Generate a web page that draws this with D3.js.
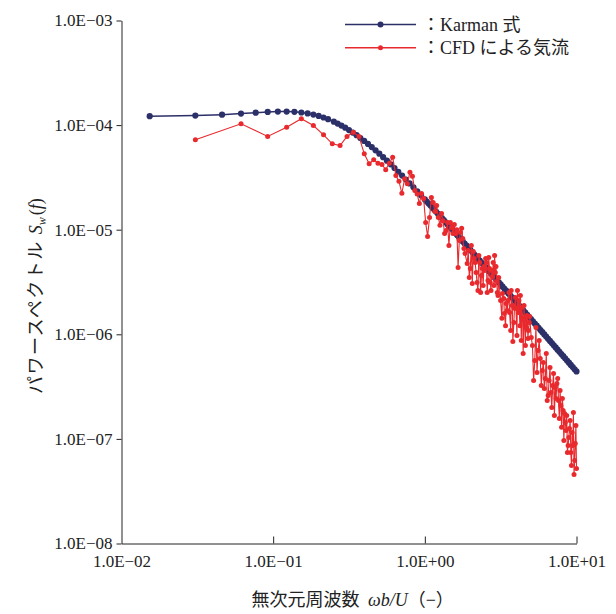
<!DOCTYPE html>
<html><head><meta charset="utf-8">
<script src="https://cdn.jsdelivr.net/npm/d3@7"></script>
<style>body{margin:0;background:#fff}</style>
</head><body>
<svg id="chart" width="616" height="614"></svg>
<script>
// ---- data ----
const karmanFreq = [0.01534,0.03068,0.04602,0.06136,0.0767,0.09204,0.10738,0.12272,0.13806,0.1534,0.16874,0.18408,0.19942,0.21476,0.2301,
 0.2512,0.2661,0.2818,0.2985,0.3162,0.335,0.3548,0.3758,0.3981,0.4217,0.4467,0.4732,0.5012,0.5309,0.5623,0.5957,0.631,0.6683,0.7079,0.7499,
 0.7943,0.8414,0.8913,0.9441,
 1.0,1.0292,1.0593,1.0902,1.122,1.1548,1.1885,1.2232,1.2589,1.2957,
 1.3335,1.3725,1.4125,1.4538,1.4962,1.5399,1.5849,1.6312,1.6788,1.7278,
 1.7783,1.8302,1.8836,1.9387,1.9953,2.0535,2.1135,2.1752,2.2387,2.3041,
 2.3714,2.4406,2.5119,2.5852,2.6607,2.7384,2.8184,2.9007,2.9854,3.0726,
 3.1623,3.2546,3.3497,3.4475,3.5481,3.6517,3.7584,3.8681,3.9811,4.0973,
 4.217,4.3401,4.4668,4.5973,4.7315,4.8697,5.0119,5.1582,5.3088,5.4639,
 5.6234,5.7876,5.9566,6.1306,6.3096,6.4938,6.6834,6.8786,7.0795,7.2862,
 7.4989,7.7179,7.9433,8.1752,8.414,8.6596,8.9125,9.1728,9.4406,9.7163,
 10.0];
const karmanS = [1.216e-4,1.234e-4,1.259e-4,1.288e-4,1.314e-4,1.335e-4,1.346e-4,1.347e-4,1.339e-4,1.320e-4,1.294e-4,1.261e-4,1.224e-4,1.182e-4,1.139e-4,
 1.078e-4,1.035e-4,9.90e-5,9.44e-5,8.96e-5,8.48e-5,8.01e-5,7.53e-5,7.06e-5,6.61e-5,6.17e-5,5.74e-5,5.33e-5,4.94e-5,4.57e-5,4.22e-5,3.89e-5,3.58e-5,3.29e-5,3.02e-5,
 2.77e-5,2.54e-5,2.33e-5,2.13e-5,
 1.947e-5,1.861e-5,1.779e-5,1.700e-5,1.624e-5,1.552e-5,1.482e-5,1.416e-5,1.352e-5,1.291e-5,
 1.233e-5,1.177e-5,1.123e-5,1.072e-5,1.024e-5,9.770e-6,9.32e-6,8.897e-6,8.49e-6,8.102e-6,
 7.73e-6,7.375e-6,7.04e-6,6.710e-6,6.40e-6,6.108e-6,5.82e-6,5.556e-6,5.30e-6,5.052e-6,
 4.82e-6,4.596e-6,4.38e-6,4.180e-6,3.99e-6,3.801e-6,3.62e-6,3.455e-6,3.30e-6,3.142e-6,
 2.995e-6,2.856e-6,2.72e-6,2.596e-6,2.475e-6,2.360e-6,2.25e-6,2.145e-6,2.045e-6,1.950e-6,
 1.858e-6,1.772e-6,1.689e-6,1.610e-6,1.535e-6,1.463e-6,1.395e-6,1.329e-6,1.267e-6,1.208e-6,
 1.152e-6,1.098e-6,1.047e-6,9.977e-7,9.51e-7,9.067e-7,8.64e-7,8.237e-7,7.85e-7,7.484e-7,
 7.13e-7,6.800e-7,6.48e-7,6.180e-7,5.89e-7,5.615e-7,5.35e-7,5.101e-7,4.86e-7,4.635e-7,
 4.42e-7];

const cfdFreq = [0.0307,0.0614,0.092,0.1227,0.1534,0.1841,0.2148,0.2454,0.2761,0.3068,0.3375,0.3682,0.3988,0.4295,0.4602,0.4909,0.5216,0.5522,0.5829,0.6136,
 0.6443,0.675,0.7056,0.7363,0.767,0.7977,0.8284,0.859,0.8897,
 0.9204,0.9511,0.9818,1.0124,1.0431,1.0738,1.1045,1.1352,1.1658,1.1965,1.2272,1.2579,1.2886,1.3192,1.3499,1.3806,1.4113,1.442,1.4726,1.5033,1.534,
 1.5647,1.5954,1.626,1.6567,1.6874,1.7181,1.7488,1.7794,1.8101,1.8408,
 1.9022,1.9328,1.9635,1.9942,2.0249,2.0556,2.0862,2.1169,2.1476,2.1783,2.209,2.2396,2.2703,2.301,2.3317,2.3624,2.393,2.4237,2.4544,2.4851,
 2.5158,2.5464,2.5771,2.6078,2.6385,2.6692,2.6998,2.7305,2.7612,2.7919,2.8226,2.8532,2.8839,2.9146,2.9453,2.976,3.0066,3.0373,3.068,
 3.16,3.2214,3.2521,3.3134,3.3441,3.4055,3.4362,3.4975,3.5282,3.5896,3.6202,3.6816,3.7123,3.7736,3.8043,3.8657,3.8964,3.9577,3.9884,4.0498,
 4.0804,4.1418,4.1725,4.2338,4.2645,4.3259,4.3566,4.4179,4.4486,4.51,4.5406,4.602,4.6327,4.694,4.7247,4.7861,4.8168,4.8781,4.9088,
 5.0315,5.1236,5.2156,5.3076,5.3997,5.4917,5.5838,5.6758,5.7678,5.8599,5.9519,6.044,6.136,6.228,6.3201,6.4121,6.5042,6.5962,6.6882,6.7803,
 6.8723,6.9644,7.0564,7.1484,7.2405,7.3325,7.4246,7.5166,7.6086,7.7007,7.7927,7.8848,7.9768,8.0688,8.1609,8.2529,8.345,8.437,8.529,8.6211,
 8.7131,8.8052,8.8972,8.9892,9.0813,9.1733,9.2654,9.3574,9.4494,9.5415,9.6335,9.7256,9.8176,9.9096,10.0];
const cfdS = [7.24e-5,1.03e-4,7.78e-5,9.55e-5,1.15e-4,9.91e-5,8.08e-5,6.63e-5,6.38e-5,7.78e-5,8.55e-5,7.78e-5,5.31e-5,4.27e-5,4.66e-5,4.32e-5,4.20e-5,3.74e-5,4.32e-5,4.93e-5,
 3.30e-5,2.91e-5,2.23e-5,3.07e-5,2.75e-5,3.55e-5,3.25e-5,2.37e-5,2.20e-5,
 1.78e-5,2.22e-5,1.99e-5,1.17e-5,8.61e-6,1.31e-5,2.03e-5,1.82e-5,1.49e-5,1.70e-5,1.31e-5,1.10e-5,1.43e-5,1.22e-5,9.20e-6,9.83e-6,1.17e-5,7.06e-6,1.17e-5,1.05e-5,9.20e-6,
 1.12e-5,9.20e-6,1.00e-5,4.35e-6,7.88e-6,9.40e-6,1.03e-5,8.24e-6,6.61e-6,5.92e-6,
 4.75e-6,6.33e-6,3.49e-6,4.26e-6,7.06e-6,3.06e-6,6.19e-6,5.31e-6,4.86e-6,3.90e-6,3.13e-6,2.62e-6,5.67e-6,4.86e-6,2.51e-6,3.65e-6,4.26e-6,2.93e-6,4.45e-6,4.07e-6,
 5.31e-6,4.86e-6,2.51e-6,3.27e-6,5.42e-6,4.26e-6,3.13e-6,2.62e-6,4.07e-6,3.57e-6,4.86e-6,2.93e-6,5.67e-6,3.90e-6,4.45e-6,3.20e-6,2.51e-6,2.35e-6,3.49e-6,
 2.10e-6,1.42e-6,2.46e-6,2.20e-6,1.58e-6,1.21e-6,1.97e-6,1.69e-6,2.10e-6,2.51e-6,1.62e-6,1.09e-6,2.62e-6,1.89e-6,8.54e-7,1.30e-6,1.77e-6,2.25e-6,1.77e-6,9.74e-7,
 2.62e-6,1.62e-6,2.10e-6,1.21e-6,2.35e-6,8.73e-7,1.80e-6,1.42e-6,6.55e-7,1.89e-6,1.36e-6,7.82e-7,1.42e-6,1.14e-6,1.51e-6,9.12e-7,1.09e-6,1.30e-6,1.48e-6,
 9.32e-7,7.82e-7,3.62e-7,5.62e-7,1.16e-6,4.31e-7,7.00e-7,8.73e-7,5.87e-7,3.24e-7,4.51e-7,5.38e-7,3.03e-7,3.78e-7,6.55e-7,2.33e-7,2.60e-7,3.62e-7,4.82e-7,2.78e-7,
 2.00e-7,3.24e-7,4.22e-7,1.67e-7,3.10e-7,2.43e-7,3.39e-7,3.78e-7,2.33e-7,1.57e-7,2.90e-7,2.09e-7,1.29e-7,2.43e-7,1.87e-7,9.66e-8,1.75e-7,1.44e-7,1.20e-7,1.67e-7,
 7.42e-8,8.65e-8,1.03e-7,1.26e-7,1.50e-7,7.42e-8,5.57e-8,1.15e-7,8.65e-8,1.79e-7,4.57e-8,6.22e-8,9.04e-8,1.34e-7,5.21e-8];

const xTickValues = [1e-2, 1e-1, 1e0, 1e1];
const xTickLabels = ["1.0E\u221202", "1.0E\u221201", "1.0E+00", "1.0E+01"];
const yTickValues = [1e-8, 1e-7, 1e-6, 1e-5, 1e-4, 1e-3];
const yTickLabels = ["1.0E\u221208", "1.0E\u221207", "1.0E\u221206", "1.0E\u221205", "1.0E\u221204", "1.0E\u221203"];
const seriesNames = ["\uFF1AKarman \u5F0F", "\uFF1ACFD \u306B\u3088\u308B\u6C17\u6D41"];
const seriesColors = ["#2c3068", "#e8292d"];

// ---- chart ----
const FONT = "'Liberation Serif','Noto Sans CJK JP',serif";
const svg = d3.select("#chart");
const x = d3.scaleLog().domain([1e-2, 1e1]).range([121.5, 576.5]);
const y = d3.scaleLog().domain([1e-8, 1e-3]).range([543.5, 20.5]);

// axes
const gx = svg.append("g").attr("transform", "translate(0,543.5)")
  .call(d3.axisBottom(x).tickValues(xTickValues).tickFormat((d, i) => xTickLabels[i])
    .tickSizeInner(-7).tickSizeOuter(0).tickPadding(11));
const gy = svg.append("g").attr("transform", "translate(121.5,0)")
  .call(d3.axisLeft(y).tickValues(yTickValues).tickFormat((d, i) => yTickLabels[i])
    .tickSizeInner(5).tickSizeOuter(0).tickPadding(4));
[gx, gy].forEach(g => {
  g.selectAll("path.domain").attr("stroke", "#222").attr("stroke-width", 1);
  g.selectAll("line").attr("stroke", "#222").attr("stroke-width", 1);
  g.selectAll("text").attr("font-family", FONT).attr("font-size", 17).attr("fill", "#222");
});
gx.selectAll(".tick").filter(d => d === 1e-2).select("line").remove();

// series
const karman = karmanFreq.map((f, i) => [f, karmanS[i]]);
const cfd = cfdFreq.map((f, i) => [f, cfdS[i]]);
const line = d3.line().x(d => x(d[0])).y(d => y(d[1]));

function drawSeries(data, color, lw, r) {
  svg.append("path").datum(data).attr("fill", "none").attr("stroke", color)
    .attr("stroke-width", lw).attr("d", line);
  svg.append("g").selectAll("circle").data(data).join("circle")
    .attr("cx", d => x(d[0])).attr("cy", d => y(d[1])).attr("r", r).attr("fill", color);
}
drawSeries(karman, seriesColors[0], 1.5, 3.1);
drawSeries(cfd, seriesColors[1], 1.1, 2.5);

// legend
const legY = [24.5, 47.8];
seriesNames.forEach((name, i) => {
  svg.append("line").attr("x1", 345).attr("x2", 416).attr("y1", legY[i]).attr("y2", legY[i])
    .attr("stroke", seriesColors[i]).attr("stroke-width", 1.5);
  svg.append("circle").attr("cx", 380.5).attr("cy", legY[i]).attr("r", i === 0 ? 3 : 2.5).attr("fill", seriesColors[i]);
  svg.append("text").attr("x", 422).attr("y", legY[i] + 6).attr("font-family", FONT)
    .attr("font-size", 18).attr("fill", "#222").text(name);
});

// axis titles
const xt = svg.append("text").attr("x", 251.5).attr("y", 606).attr("font-family", FONT)
  .attr("font-size", 18).attr("fill", "#222");
xt.append("tspan").text("\u7121\u6B21\u5143\u5468\u6CE2\u6570 ");
xt.append("tspan").attr("font-style", "italic").attr("dx", 4).text("\u03C9b/U");
xt.append("tspan").text("\uFF08\u2212\uFF09");

const yt = svg.append("text").attr("transform", "translate(42,394) rotate(-90)")
  .attr("font-family", FONT).attr("font-size", 18).attr("fill", "#222");
yt.append("tspan").attr("letter-spacing", 1.5).text("\u30D1\u30EF\u30FC\u30B9\u30DA\u30AF\u30C8\u30EB");
yt.append("tspan").attr("dx", 6).attr("font-style", "italic").text("S");
yt.append("tspan").attr("font-style", "italic").attr("font-size", 12).attr("dy", 4).text("w");
yt.append("tspan").attr("dy", -4).attr("dx", 2).text("(");
yt.append("tspan").attr("font-style", "italic").text("f");
yt.append("tspan").text(")");
</script>
</body></html>
